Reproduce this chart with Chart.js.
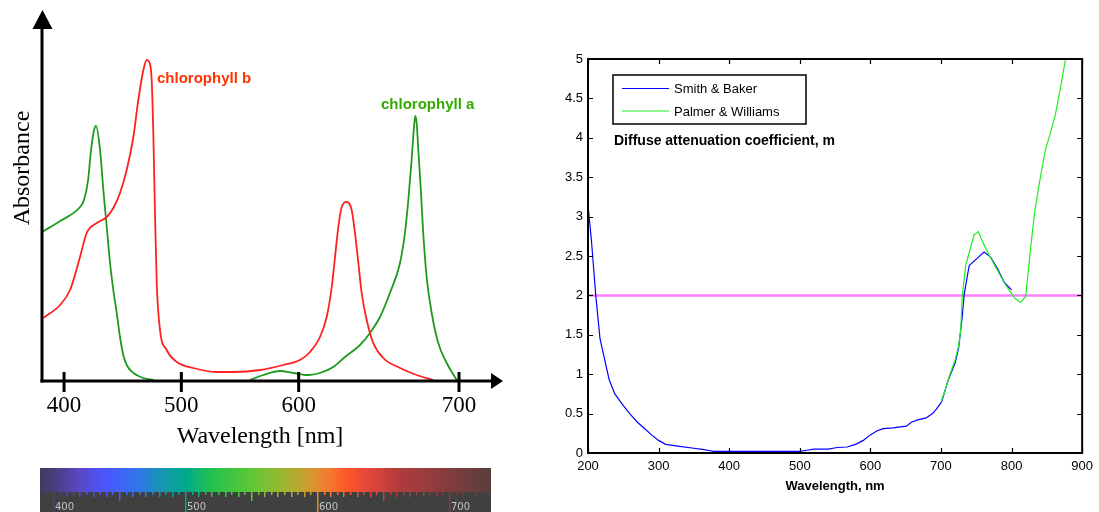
<!DOCTYPE html>
<html>
<head>
<meta charset="utf-8">
<script src="https://cdn.jsdelivr.net/npm/chart.js@4.4.1/dist/chart.umd.min.js"></script>
<style>
  html, body { margin: 0; padding: 0; background: #fff; }
  #wrap { position: relative; width: 1099px; height: 512px; overflow: hidden; }
  #absChart { position: absolute; left: 0; top: 0; }
  #kdChart { position: absolute; left: 540px; top: 0; }
</style>
</head>
<body>
<div id="wrap">
  <canvas id="absChart" width="540" height="512"></canvas>
  <canvas id="kdChart" width="559" height="512"></canvas>
</div>
<script>
// ===== Left panel: absorbance spectra (arbitrary units, wavelength as drawn on the axis) =====
const chlaWl  = [381.2, 396.6, 413.6, 417.0, 420.5, 423.0, 425.6, 427.3, 430.7, 433.5, 436.4, 439.2, 442.0, 444.9, 447.7, 450.5, 453.4, 459.1, 467.6, 476.1,
                 517.0,
                 558.5, 569.9, 584.1, 595.4, 608.2, 618.2, 629.5, 639.5, 652.3, 660.8, 669.3, 677.8, 686.4, 690.6, 693.5, 696.3, 698.3, 699.4, 700.6, 702.0, 704.0, 706.2, 709.1, 713.4, 719.0, 726.2, 734.7];
const chlaAbs = [1.49, 1.60, 1.74, 1.81, 2.01, 2.31, 2.51, 2.55, 2.31, 1.91, 1.54, 1.18, 0.91, 0.68, 0.44, 0.26, 0.16, 0.08, 0.03, 0.01,
                 null,
                 0.01, 0.06, 0.10, 0.08, 0.06, 0.08, 0.14, 0.24, 0.36, 0.48, 0.64, 0.88, 1.18, 1.48, 1.81, 2.21, 2.54, 2.65, 2.58, 2.31, 1.94, 1.48, 1.04, 0.68, 0.38, 0.18, 0.01];

const chlbWl  = [382.4, 396.6, 405.1, 413.6, 419.3, 427.9, 436.4, 442.0, 447.7, 453.4, 459.1, 463.3, 467.6, 470.5, 472.7, 474.7, 476.1, 477.6, 479.0, 481.8,
                 487.5, 496.1, 510.2, 530.1, 544.3, 567.1, 586.9, 601.1, 609.7, 618.2, 623.9, 628.2, 631.0, 633.8, 636.7, 641.0, 645.2, 648.0, 650.9, 653.7,
                 658.0, 663.6, 672.1, 686.4, 700.6, 714.7];
const chlbAbs = [0.63, 0.76, 0.91, 1.24, 1.48, 1.58, 1.64, 1.73, 1.88, 2.11, 2.44, 2.81, 3.11, 3.21, 3.19, 3.01, 2.48, 1.64, 0.98, 0.51,
                 0.31, 0.19, 0.13, 0.09, 0.09, 0.11, 0.16, 0.21, 0.29, 0.44, 0.64, 0.94, 1.24, 1.54, 1.74, 1.79, 1.71, 1.48, 1.18, 0.88,
                 0.61, 0.38, 0.23, 0.13, 0.06, 0.01];

// the printed "700" sits further right than a linear axis would put it
const absTickWl   = [400, 500, 600, 736.7];
const absTickText = ['400', '500', '600', '700'];

// ===== Right panel: diffuse attenuation coefficient =====
const sbWl = [200, 205, 211, 217, 220, 230, 238, 250, 260, 270, 280, 290, 300, 310, 330, 350, 362, 370, 378, 500,
              510, 520, 540, 553, 567, 579, 590, 600, 609, 618, 632, 651, 658, 667, 679, 688, 693, 701, 710, 720,
              725, 730, 733, 740, 750, 761, 770, 780, 790, 800];
const sbK  = [3.15, 2.68, 2.00, 1.45, 1.33, 0.93, 0.75, 0.60, 0.49, 0.39, 0.31, 0.23, 0.16, 0.11, 0.085, 0.06, 0.047, 0.035, 0.02, 0.02,
              0.035, 0.05, 0.05, 0.07, 0.076, 0.11, 0.16, 0.23, 0.28, 0.31, 0.32, 0.34, 0.39, 0.42, 0.445, 0.50, 0.55, 0.65, 0.92, 1.14,
              1.33, 1.72, 2.02, 2.38, 2.46, 2.55, 2.49, 2.34, 2.16, 2.07];

const pwWl = [700, 705, 712, 720, 725, 728, 730, 735, 747, 753, 760, 770, 780, 789, 797, 805, 813, 820, 827, 833, 841, 848, 855, 862, 869, 876.5];
const pwK  = [0.65, 0.77, 0.98, 1.18, 1.36, 1.56, 1.98, 2.38, 2.77, 2.81, 2.66, 2.48, 2.32, 2.17, 2.06, 1.96, 1.91, 1.99, 2.60, 3.08, 3.51, 3.85, 4.06, 4.29, 4.62, 5.0];

const refWl = [200, 900];
const refK  = [2, 2];

const pts = (xs, ys) => xs.map((x, i) => ({ x, y: ys[i] }));

Chart.defaults.font.family = '"Liberation Sans", Arial, sans-serif';
Chart.defaults.color = '#000';

// ---- left panel decorations: arrow axes, ticks, serif labels, spectrum strip ----
const absDecor = {
    id: 'absDecor',
    afterDatasetsDraw(chart) {
        const { ctx, chartArea: a, scales: { x } } = chart;
        ctx.save();
        ctx.fillStyle = '#000';
        ctx.strokeStyle = '#000';
        ctx.lineWidth = 3;

        // y axis + arrow
        ctx.beginPath();
        ctx.moveTo(a.left, a.bottom + 1.5);
        ctx.lineTo(a.left, a.top + 16);
        ctx.stroke();
        ctx.beginPath();
        ctx.moveTo(a.left + 0.5, a.top);
        ctx.lineTo(a.left - 9.5, a.top + 19);
        ctx.lineTo(a.left + 10.5, a.top + 19);
        ctx.closePath();
        ctx.fill();

        // x axis + arrow
        ctx.beginPath();
        ctx.moveTo(a.left - 1.5, a.bottom);
        ctx.lineTo(a.right - 10, a.bottom);
        ctx.stroke();
        ctx.beginPath();
        ctx.moveTo(a.right, a.bottom);
        ctx.lineTo(a.right - 12, a.bottom - 8);
        ctx.lineTo(a.right - 12, a.bottom + 8);
        ctx.closePath();
        ctx.fill();

        // ticks and their labels
        ctx.font = '23px "Liberation Serif", "Times New Roman", serif';
        ctx.textAlign = 'center';
        ctx.textBaseline = 'alphabetic';
        absTickWl.forEach((v, i) => {
            const px = x.getPixelForValue(v);
            ctx.beginPath();
            ctx.moveTo(px, a.bottom - 9);
            ctx.lineTo(px, a.bottom + 11);
            ctx.stroke();
            ctx.fillText(absTickText[i], px, 412);
        });

        // axis titles
        ctx.font = '24px "Liberation Serif", "Times New Roman", serif';
        ctx.fillText('Wavelength [nm]', 260, 443);
        ctx.save();
        ctx.translate(29, 168);
        ctx.rotate(-Math.PI / 2);
        ctx.fillText('Absorbance', 0, 0);
        ctx.restore();

        // curve labels
        ctx.font = 'bold 15px "Liberation Sans", Arial, sans-serif';
        ctx.textAlign = 'left';
        ctx.fillStyle = '#ff3300';
        ctx.fillText(chart.data.datasets[0].label, 157, 83);
        ctx.fillStyle = '#33aa00';
        ctx.fillText(chart.data.datasets[1].label, 381, 109);

        // visible spectrum strip
        const sx0 = 40, sx1 = 491, sTop = 468, sMid = 492, sBot = 512;
        const g = ctx.createLinearGradient(sx0, 0, sx1, 0);
        [[0, '#433a5e'], [0.044, '#4d3f8a'], [0.089, '#5a48c8'], [0.144, '#4b55ff'], [0.222, '#2f78e8'],
         [0.277, '#139aa8'], [0.322, '#00a890'], [0.377, '#20c050'], [0.466, '#5cc836'], [0.532, '#96b830'],
         [0.588, '#c8a030'], [0.632, '#f08030'], [0.676, '#ff5a28'], [0.721, '#e84838'], [0.798, '#b03c3c'],
         [0.887, '#8a3c3c'], [1, '#5a3e3e']].forEach(([o, c]) => g.addColorStop(o, c));
        ctx.fillStyle = g;
        ctx.fillRect(sx0, sTop, sx1 - sx0, sMid - sTop);
        ctx.fillStyle = '#404040';
        ctx.fillRect(sx0, sMid, sx1 - sx0, sBot - sMid);
        ctx.fillStyle = g;
        for (let nm = 390; nm <= 730; nm += 5) {
            const px = Math.round(53 + (nm - 400) * 1.32);
            let len = nm % 10 === 0 ? 5 : 3;
            if (nm % 50 === 0) len = 9;
            if (nm % 100 === 0) len = 20;
            ctx.fillRect(px, sMid, 1.5, len);
        }
        ctx.fillStyle = '#c4c4c4';
        ctx.font = '10px "DejaVu Sans", sans-serif';
        ['400', '500', '600', '700'].forEach((t, i) => {
            ctx.fillText(t, 55 + i * 132, 510);
        });
        ctx.restore();
    }
};

new Chart(document.getElementById('absChart'), {
    type: 'line',
    data: {
        datasets: [
            {
                label: 'chlorophyll b',
                data: pts(chlbWl, chlbAbs),
                borderColor: '#ff2020',
                borderWidth: 1.8,
                pointRadius: 0,
                cubicInterpolationMode: 'monotone',
                fill: false
            },
            {
                label: 'chlorophyll a',
                data: pts(chlaWl, chlaAbs),
                borderColor: '#1f9a1f',
                borderWidth: 1.8,
                pointRadius: 0,
                cubicInterpolationMode: 'monotone',
                spanGaps: false,
                fill: false
            }
        ]
    },
    options: {
        responsive: false,
        animation: false,
        layout: { padding: { left: 42, right: 37, top: 10, bottom: 131 } },
        plugins: { legend: { display: false }, tooltip: { enabled: false } },
        scales: {
            x: { type: 'linear', min: 381.2, max: 774.2, display: false },
            y: { min: 0, max: 3.71, display: false }
        }
    },
    plugins: [absDecor]
});

// ---- right panel decorations: boxed frame with inward ticks, legend, notes ----
const kdDecor = {
    id: 'kdDecor',
    afterDraw(chart) {
        const { ctx, chartArea: a, scales: { x, y } } = chart;
        ctx.save();
        ctx.strokeStyle = '#000';
        ctx.lineWidth = 1.2;
        x.ticks.forEach(t => {
            const px = Math.round(x.getPixelForValue(t.value)) + 0.5;
            ctx.beginPath();
            ctx.moveTo(px, a.bottom); ctx.lineTo(px, a.bottom - 5);
            ctx.moveTo(px, a.top); ctx.lineTo(px, a.top + 5);
            ctx.stroke();
        });
        y.ticks.forEach(t => {
            const py = Math.round(y.getPixelForValue(t.value)) + 0.5;
            ctx.beginPath();
            ctx.moveTo(a.left, py); ctx.lineTo(a.left + 5, py);
            ctx.moveTo(a.right, py); ctx.lineTo(a.right - 5, py);
            ctx.stroke();
        });
        ctx.lineWidth = 2;
        ctx.strokeRect(a.left, a.top, a.right - a.left, a.bottom - a.top);

        // legend
        const lx = a.left + 25, ly = a.top + 16;
        ctx.fillStyle = '#fff';
        ctx.fillRect(lx, ly, 193, 49);
        ctx.lineWidth = 1.5;
        ctx.strokeRect(lx, ly, 193, 49);
        ctx.font = '13px "Liberation Sans", Arial, sans-serif';
        ctx.textAlign = 'left';
        ctx.textBaseline = 'alphabetic';
        chart.data.datasets.slice(0, 2).forEach((ds, i) => {
            const yy = ly + 13.5 + i * 22.5;
            ctx.strokeStyle = ds.borderColor;
            ctx.lineWidth = 1.2;
            ctx.beginPath();
            ctx.moveTo(lx + 9, yy); ctx.lineTo(lx + 56, yy);
            ctx.stroke();
            ctx.fillStyle = '#000';
            ctx.fillText(ds.label, lx + 61, yy + 4.5);
        });

        ctx.font = 'bold 14px "Liberation Sans", Arial, sans-serif';
        ctx.fillText('Diffuse attenuation coefficient, m', lx + 1, 145);

        ctx.font = 'bold 13px "Liberation Sans", Arial, sans-serif';
        ctx.textAlign = 'center';
        ctx.textBaseline = 'middle';
        ctx.fillText('Wavelength, nm', (a.left + a.right) / 2, 486);
        ctx.restore();
    }
};

new Chart(document.getElementById('kdChart'), {
    type: 'line',
    data: {
        datasets: [
            { label: 'Smith & Baker', data: pts(sbWl, sbK), borderColor: '#0000ff', borderWidth: 1.2, pointRadius: 0, tension: 0, order: 1 },
            { label: 'Palmer & Williams', data: pts(pwWl, pwK), borderColor: '#22ee22', borderWidth: 1.2, pointRadius: 0, tension: 0, order: 0 },
            { label: 'K = 2', data: pts(refWl, refK), borderColor: '#ff80ff', borderWidth: 2.5, pointRadius: 0, order: 2 }
        ]
    },
    options: {
        responsive: false,
        animation: false,
        layout: { padding: { left: 0, right: 11, top: 59, bottom: 0 } },
        plugins: { legend: { display: false }, tooltip: { enabled: false } },
        scales: {
            x: {
                type: 'linear', min: 200, max: 900,
                grid: { display: false, drawTicks: false },
                border: { display: false },
                ticks: { stepSize: 100, padding: 6, font: { size: 13 }, maxRotation: 0 },
                afterFit: s => { s.height = 59; }
            },
            y: {
                min: 0, max: 5,
                grid: { display: false, drawTicks: false },
                border: { display: false },
                ticks: { stepSize: 0.5, padding: 5, font: { size: 13 }, callback: v => String(Number(v.toFixed(1))) },
                afterFit: s => { s.width = 48; }
            }
        }
    },
    plugins: [kdDecor]
});
</script>
</body>
</html>
